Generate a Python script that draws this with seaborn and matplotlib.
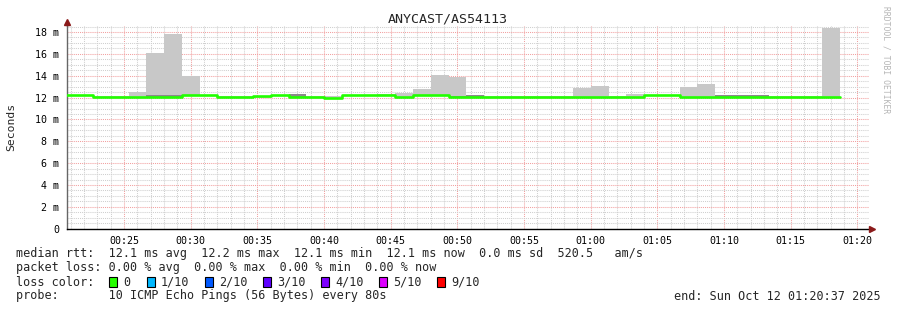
import numpy as np
import pandas as pd
import matplotlib
matplotlib.use("Agg")
import matplotlib.pyplot as plt
from matplotlib.patches import Rectangle
from matplotlib.ticker import MultipleLocator, FixedLocator
import seaborn as sns

# ---------------- data ----------------
title = "ANYCAST/AS54113"
step_start = "00:20:00"
step_seconds = 80

median_ms = [12.2, 12.2, 12.05, 12.05, 12.05, 12.05, 12.05, 12.2, 12.2, 12.05,
             12.05, 12.1, 12.2, 12.05, 12.05, 12.0, 12.2, 12.2, 12.2, 12.05,
             12.2, 12.2, 12.05, 12.05, 12.05, 12.05, 12.05, 12.05, 12.05, 12.05,
             12.05, 12.05, 12.05, 12.2, 12.2, 12.05, 12.05, 12.05, 12.05, 12.05,
             12.05, 12.05, 12.05, 12.05]
smoke_min_ms = [12.1, 12.1, 11.95, 11.95, 11.95, 11.95, 11.95, 12.1, 12.1, 11.95,
                11.95, 12.0, 12.1, 11.95, 11.95, 11.9, 12.1, 12.1, 12.1, 11.95,
                12.1, 12.1, 11.95, 11.95, 11.95, 11.95, 11.95, 11.95, 11.95, 11.95,
                11.95, 11.95, 11.95, 12.1, 12.1, 11.95, 11.95, 11.95, 11.95, 11.95,
                11.95, 11.95, 11.95, 11.95]
smoke_dark_ms = [12.1, 12.1, 11.95, 11.95, 11.95, 12.2, 12.2, 12.1, 12.1, 11.95,
                 11.95, 12.0, 12.1, 12.3, 11.95, 11.9, 12.1, 12.1, 12.1, 11.95,
                 12.1, 12.1, 12.15, 12.2, 11.95, 11.95, 11.95, 11.95, 11.95, 11.95,
                 11.95, 11.95, 11.95, 12.1, 12.1, 11.95, 11.95, 12.2, 12.2, 12.2,
                 11.95, 11.95, 11.95, 11.95]
smoke_max_ms = [12.25, 12.25, 12.1, 12.1, 12.55, 16.05, 17.8, 13.95, 12.25, 12.1,
                12.15, 12.15, 12.25, 12.3, 12.15, 12.1, 12.25, 12.25, 12.3, 12.45,
                12.75, 14.05, 13.85, 12.2, 12.15, 12.15, 12.15, 12.1, 12.1, 12.85,
                13.05, 12.15, 12.35, 12.25, 12.25, 13.0, 13.2, 12.2, 12.2, 12.2,
                12.15, 12.15, 12.15, 18.35]

x_tick_labels = ["00:25", "00:30", "00:35", "00:40", "00:45", "00:50",
                 "00:55", "01:00", "01:05", "01:10", "01:15", "01:20"]
y_tick_values = [0, 2, 4, 6, 8, 10, 12, 14, 16, 18]
y_tick_labels = ["0", "2 m", "4 m", "6 m", "8 m", "10 m", "12 m", "14 m", "16 m", "18 m"]

loss_labels = ["0", "1/10", "2/10", "3/10", "4/10", "5/10", "9/10"]
loss_colors = ["#26ff00", "#00b8ff", "#0059ff", "#5e00ff", "#7e00ff", "#dd00ff", "#ff0000"]

legend_rtt = "median rtt:  12.1 ms avg  12.2 ms max  12.1 ms min  12.1 ms now  0.0 ms sd  520.5   am/s"
legend_loss = "packet loss: 0.00 % avg  0.00 % max  0.00 % min  0.00 % now"
legend_color = "loss color:"
legend_probe = "probe:       10 ICMP Echo Pings (56 Bytes) every 80s"
legend_end = "end: Sun Oct 12 01:20:37 2025"
watermark = "RRDTOOL / TOBI OETIKER"

# ---------------- derived ----------------
n = len(median_ms)
t0 = pd.to_timedelta(step_start).total_seconds() / 60.0
edges = t0 + np.arange(n + 1) * step_seconds / 60.0
starts = edges[:-1]
width = step_seconds / 60.0
tick_minutes = [int(s[:2]) * 60 + int(s[3:]) for s in x_tick_labels]

df = pd.DataFrame({"t": edges, "median": list(median_ms) + [median_ms[-1]]})

# ---------------- style ----------------
sns.set_theme(style="white")
plt.rcParams["font.family"] = ["DejaVu Sans Mono"]

W, H = 897, 310
fig = plt.figure(figsize=(W / 100, H / 100), dpi=100)
fig.patch.set_facecolor("white")

left_px, right_px, top_px, bottom_px = 67, 869, 26, 228.7
ax = fig.add_axes([left_px / W, 1 - bottom_px / H,
                   (right_px - left_px) / W, (bottom_px - top_px) / H])
ax.set_facecolor("white")

# smoke
smin = np.array(smoke_min_ms)
ax.bar(starts, np.array(smoke_max_ms) - smin, bottom=smin, width=width,
       align="edge", color="#c8c8c8", linewidth=0, zorder=2)
ax.bar(starts, np.array(smoke_dark_ms) - smin, bottom=smin, width=width,
       align="edge", color="#8a8a8a", linewidth=0, zorder=2.5)

# median line
sns.lineplot(data=df, x="t", y="median", ax=ax, drawstyle="steps-post",
             color="#22ff00", linewidth=1.9, estimator=None, zorder=3)

ax.set_xlim(20.72, 80.87)
ax.set_ylim(0, 18.55)

ax.xaxis.set_major_locator(FixedLocator(tick_minutes))
ax.set_xticklabels(x_tick_labels)
ax.xaxis.set_minor_locator(MultipleLocator(1))
ax.yaxis.set_major_locator(FixedLocator(y_tick_values))
ax.set_yticklabels(y_tick_labels)
ax.yaxis.set_minor_locator(MultipleLocator(0.5))

ax.set_axisbelow(True)
ax.grid(which="minor", color="#cfcfcf", linestyle=(0, (1, 1)), linewidth=0.75)
ax.grid(which="major", color="#f2a0a0", linestyle=(0, (1, 1)), linewidth=0.75)

ax.set_xlabel("")
ax.set_ylabel("")
for s in ["top", "right"]:
    ax.spines[s].set_visible(False)
ax.spines["left"].set_color("#666666")
ax.spines["left"].set_linewidth(1.0)
ax.spines["bottom"].set_color("#000000")
ax.spines["bottom"].set_linewidth(1.0)

ax.tick_params(axis="both", which="major", labelsize=7.2, colors="#000000",
               length=3, width=0.7)
ax.tick_params(axis="both", which="minor", length=1.6, width=0.6, colors="#777777")
ax.tick_params(axis="y", which="major", pad=2.8)
ax.tick_params(axis="x", which="major", pad=2.5)

# arrows
ax.plot([0], [1.018], marker="^", markersize=4, color="#8b1a1a",
        transform=ax.transAxes, clip_on=False, zorder=5)
ax.plot([1.004], [0], marker=">", markersize=4, color="#8b1a1a",
        transform=ax.transAxes, clip_on=False, zorder=5)
ax.plot([0, 0], [1.0, 1.018], color="#666666", lw=1.0,
        transform=ax.transAxes, clip_on=False)

# title & labels
fig.text(448 / W, 1 - 19 / H, title, ha="center", va="center", fontsize=9.6)
fig.text(11 / W, 1 - 127 / H, "Seconds", rotation=90, ha="center",
         va="center", fontsize=8.2)
fig.text(886 / W, 1 - 60 / H, watermark, rotation=270, ha="center",
         va="center", fontsize=5.8, color="#b5b5b5")

# legend
fs = 8.5
x0 = 16 / W
fig.text(x0, 1 - 254 / H, legend_rtt, ha="left", va="center", fontsize=fs)
fig.text(x0, 1 - 268 / H, legend_loss, ha="left", va="center", fontsize=fs)
fig.text(x0, 1 - 282 / H, legend_color, ha="left", va="center", fontsize=fs)
fig.text(x0, 1 - 296 / H, legend_probe, ha="left", va="center", fontsize=fs)
fig.text(881 / W, 1 - 296 / H, legend_end, ha="right", va="center", fontsize=fs)

box_px = [109, 147, 205, 263, 321, 379, 437]
for bx, lab, col in zip(box_px, loss_labels, loss_colors):
    fig.add_artist(Rectangle(((bx) / W, 1 - 287 / H), 8 / W, 10 / H,
                             transform=fig.transFigure, facecolor=col,
                             edgecolor="#000000", linewidth=0.8))
    fig.text((bx + 14) / W, 1 - 282 / H, lab, ha="left", va="center", fontsize=fs)

fig.savefig("out.png", dpi=100, facecolor="white")
